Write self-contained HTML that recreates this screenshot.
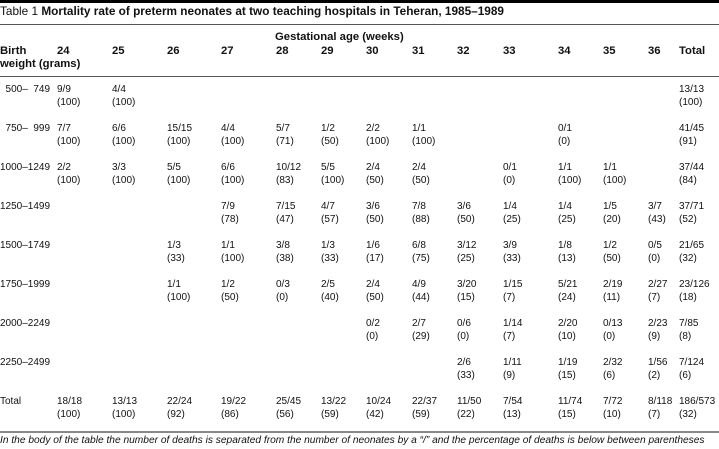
<!DOCTYPE html>
<html><head><meta charset="utf-8"><style>
body{margin:0;width:719px;height:449px;background:#fff;position:relative;overflow:hidden;font-family:"Liberation Sans",Arial,sans-serif;font-size:10px;color:#111;}
.a{position:absolute;line-height:13px;white-space:nowrap;}
.b{font-weight:bold;font-size:11.3px;}
.l{position:absolute;left:0;width:719px;}
</style></head><body>
<div class="l" style="top:0;height:3px;background:#000"></div>
<div class="a" style="left:0;top:5px;font-size:11.8px">Table 1 <b>Mortality rate of preterm neonates at two teaching hospitals in Teheran, 1985–1989</b></div>
<div class="l" style="top:24px;height:1px;background:#555"></div>
<div class="a b" style="left:275px;top:31px">Gestational age (weeks)</div>
<div class="a b" style="left:0;top:45px">Birth<br>weight (grams)</div>
<div id="hdr"></div>
<div class="l" style="top:76px;height:1px;background:#555"></div>
<div id="body"></div>
<div class="l" style="top:431px;height:2px;background:#888"></div>
<div class="a" style="left:0;top:434px;font-style:italic;font-size:10.2px">In the body of the table the number of deaths is separated from the number of neonates by a “/” and the percentage of deaths is below between parentheses</div>
<script>
var xs=[57,112,167,221,276,321,366,412,457,503,558,603,648,679];
var hd=['24','25','26','27','28','29','30','31','32','33','34','35','36','Total'];
var h='';
hd.forEach(function(t,i){h+='<div class="a b" style="left:'+xs[i]+'px;top:45px">'+t+'</div>';});
document.getElementById('hdr').outerHTML=h;
var rows=[
['\u00a0\u00a0500– \u00a0749',['9/9','100'],['4/4','100'],0,0,0,0,0,0,0,0,0,0,0,['13/13','100']],
['\u00a0\u00a0750– \u00a0999',['7/7','100'],['6/6','100'],['15/15','100'],['4/4','100'],['5/7','71'],['1/2','50'],['2/2','100'],['1/1','100'],0,0,['0/1','0'],0,0,['41/45','91']],
['1000–1249',['2/2','100'],['3/3','100'],['5/5','100'],['6/6','100'],['10/12','83'],['5/5','100'],['2/4','50'],['2/4','50'],0,['0/1','0'],['1/1','100'],['1/1','100'],0,['37/44','84']],
['1250–1499',0,0,0,['7/9','78'],['7/15','47'],['4/7','57'],['3/6','50'],['7/8','88'],['3/6','50'],['1/4','25'],['1/4','25'],['1/5','20'],['3/7','43'],['37/71','52']],
['1500–1749',0,0,['1/3','33'],['1/1','100'],['3/8','38'],['1/3','33'],['1/6','17'],['6/8','75'],['3/12','25'],['3/9','33'],['1/8','13'],['1/2','50'],['0/5','0'],['21/65','32']],
['1750–1999',0,0,['1/1','100'],['1/2','50'],['0/3','0'],['2/5','40'],['2/4','50'],['4/9','44'],['3/20','15'],['1/15','7'],['5/21','24'],['2/19','11'],['2/27','7'],['23/126','18']],
['2000–2249',0,0,0,0,0,0,['0/2','0'],['2/7','29'],['0/6','0'],['1/14','7'],['2/20','10'],['0/13','0'],['2/23','9'],['7/85','8']],
['2250–2499',0,0,0,0,0,0,0,0,['2/6','33'],['1/11','9'],['1/19','15'],['2/32','6'],['1/56','2'],['7/124','6']],
['Total',['18/18','100'],['13/13','100'],['22/24','92'],['19/22','86'],['25/45','56'],['13/22','59'],['10/24','42'],['22/37','59'],['11/50','22'],['7/54','13'],['11/74','15'],['7/72','10'],['8/118','7'],['186/573','32']]
];
var s='';
rows.forEach(function(r,ri){
 var t=83+ri*39;
 s+='<div class="a" style="left:0;top:'+t+'px">'+r[0]+'</div>';
 for(var i=1;i<r.length;i++){if(r[i]){s+='<div class="a" style="left:'+xs[i-1]+'px;top:'+t+'px">'+r[i][0]+'<br>('+r[i][1]+')</div>';}}
});
document.getElementById('body').outerHTML=s;
</script>
</body></html>
